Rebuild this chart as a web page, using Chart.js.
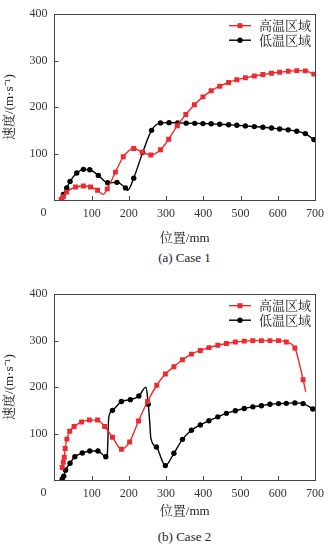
<!DOCTYPE html>
<html>
<head>
<meta charset="utf-8">
<script src="https://cdn.jsdelivr.net/npm/chart.js@4/dist/chart.umd.min.js"></script>
<style>
body { margin:0; background:#fff; width:332px; height:547px; position:relative; overflow:hidden; }
.box { position:absolute; left:0; width:332px; height:248px; }
.cap { position:absolute; left:54px; width:261px; text-align:center; font:13px "Liberation Serif", "Noto Serif CJK SC", "Noto Sans CJK SC", serif; color:#222; }
</style>
</head>
<body>
<script>
// axes
const xTicks = [0, 100, 200, 300, 400, 500, 600, 700]
const yTicks = [0, 100, 200, 300, 400]
const names = ['高温区域', '低温区域']

// Case 1, 1 = point drawn with a marker, 0 = only shapes the curve
const c1HotX = [19, 24, 33, 57, 78, 97, 116, 131, 142, 164, 185, 213, 236, 259, 285, 307, 330, 353, 376, 399, 421, 444, 468, 490, 513, 537, 560, 583, 605, 628, 651, 674, 697]
const c1HotY = [1, 7, 17, 28, 30, 28, 21, 12, 24, 60, 93, 111, 103, 97, 108, 131, 160, 184, 205, 222, 235, 245, 253, 259, 263, 267, 270, 273, 275, 277, 278.5, 278, 271]
const c1HotM = [1, 1, 1, 1, 1, 1, 1, 0, 1, 1, 1, 1, 1, 1, 1, 1, 1, 1, 1, 1, 1, 1, 1, 1, 1, 1, 1, 1, 1, 1, 1, 1, 1]
const c1ColdX = [19, 24, 33, 42, 60, 78, 95, 118, 143, 168, 191, 197, 213, 237, 261, 285, 308, 331, 354, 377, 399, 421, 444, 468, 490, 513, 537, 560, 583, 605, 628, 651, 674, 697]
const c1ColdY = [2, 12, 26, 40, 58, 66, 65, 53, 37, 38, 26, 21, 47, 102, 150, 166, 166.5, 166, 165.5, 165, 164.5, 164, 163, 162, 161, 159.5, 158, 156.5, 155, 153, 151, 148, 143, 130]
const c1ColdM = [1, 1, 1, 1, 1, 1, 1, 1, 1, 1, 1, 0, 1, 1, 1, 1, 1, 1, 1, 1, 1, 1, 1, 1, 1, 1, 1, 1, 1, 1, 1, 1, 1, 1]

// Case 2
const c2HotX = [21, 24, 26.5, 29, 33.5, 41, 53, 73, 94, 116, 135, 156, 180, 202, 226, 250, 275, 298, 321, 344, 368, 392, 415, 439, 462, 486, 510, 533, 556, 579, 602, 623, 646, 668, 675]
const c2HotY = [27, 38, 49, 68, 88, 105, 115, 125, 129, 129, 115, 92, 66, 82, 127, 169, 204, 228, 244, 259, 271, 279, 285, 290, 294, 297, 299, 300, 300, 300, 300, 297, 284, 216, 190]
const c2HotM = [1, 1, 1, 1, 1, 1, 1, 1, 1, 1, 1, 1, 1, 1, 1, 1, 1, 1, 1, 1, 1, 1, 1, 1, 1, 1, 1, 1, 1, 1, 1, 1, 1, 1, 0]
const c2ColdX = [21, 25, 30, 42, 55, 75, 95, 117, 138, 142, 146, 156, 180, 204, 227, 246, 252, 256, 259, 274, 298, 321, 344, 368, 392, 415, 439, 462, 486, 510, 533, 556, 579, 602, 623, 646, 668, 694]
const c2ColdY = [2, 8, 21, 36, 50, 58, 62.5, 62.5, 50, 55, 135, 150, 169, 173, 181, 200, 163, 125, 90, 71, 31, 57.5, 87.5, 107, 118.5, 127.5, 136, 143.5, 149, 154, 157.5, 160, 163, 164.5, 165, 166, 164.5, 153]
const c2ColdM = [1, 1, 1, 1, 1, 1, 1, 1, 1, 0, 0, 1, 1, 1, 1, 0, 1, 0, 0, 1, 1, 1, 1, 1, 1, 1, 1, 1, 1, 1, 1, 1, 1, 1, 1, 1, 1, 1]

const FONT = '"Liberation Serif", "Noto Serif CJK SC", "Noto Sans CJK SC", serif'
const RED = '#EE2A2E'

const el = o => {
	const a = document.createElement(o.a)
	if (o.d) for (const k in o.d) a.setAttribute(k, o.d[k])
	if (o.c) a.textContent = o.c
	;(o.b || document.body).appendChild(a)
	return a
}

const pts = (xs, ys) => xs.map((x, i) => ({ x, y: ys[i] }))

// box, inward ticks, corner "0" and the legend inside the plot
const deco = {
	id: 'deco',
	afterDraw(c) {
		const { ctx, chartArea: a, scales: { x, y } } = c
		ctx.save()
		ctx.strokeStyle = '#444'
		ctx.lineWidth = 1
		ctx.strokeRect(Math.round(a.left) + .5, Math.round(a.top) + .5, Math.round(a.right - a.left), Math.round(a.bottom - a.top))
		ctx.beginPath()
		x.ticks.forEach(t => {
			const p = Math.round(x.getPixelForValue(t.value)) + .5
			ctx.moveTo(p, a.bottom); ctx.lineTo(p, a.bottom - 4)
		})
		y.ticks.forEach(t => {
			const p = Math.round(y.getPixelForValue(t.value)) + .5
			ctx.moveTo(a.left, p); ctx.lineTo(a.left + 4, p)
		})
		ctx.stroke()

		ctx.fillStyle = '#333'
		ctx.font = '12px ' + FONT
		ctx.textAlign = 'center'
		ctx.textBaseline = 'middle'
		ctx.fillText('0', a.left - 11, a.bottom + 13)

		ctx.font = '13px ' + FONT
		ctx.textAlign = 'left'
		c.data.datasets.forEach((d, i) => {
			const ly = a.top + 11.5 + i * 14.5
			const lx = a.right - 86
			ctx.strokeStyle = d.borderColor
			ctx.lineWidth = 1.4
			ctx.beginPath(); ctx.moveTo(lx, ly); ctx.lineTo(lx + 22, ly); ctx.stroke()
			ctx.fillStyle = d.borderColor
			ctx.beginPath()
			if (d.pointStyle == 'rect') ctx.rect(lx + 11 - 2.5, ly - 2.5, 5, 5)
			else ctx.arc(lx + 11, ly, 2.7, 0, Math.PI * 2)
			ctx.fill()
			ctx.fillStyle = '#222'
			ctx.fillText(d.label, a.right - 56, ly + 1)
		})
		ctx.restore()
	}
}

const chart = (top, hot, cold, titlePad, caption, capTop) => {
	const b = el({ a: 'div', d: { class: 'box', style: 'top:' + top + 'px' } })
	const cv = el({ a: 'canvas', b })
	el({ a: 'div', c: caption, d: { class: 'cap', style: 'top:' + capTop + 'px' } })

	new Chart(cv, {
		type: 'line',
		data: {
			datasets: [{
				label: names[0],
				data: pts(hot[0], hot[1]),
				borderColor: RED,
				backgroundColor: RED,
				borderWidth: 1.4,
				pointStyle: 'rect',
				pointRadius: hot[2].map(m => m ? 3.5 : 0),
				pointBorderWidth: 0,
				cubicInterpolationMode: 'monotone',
			}, {
				label: names[1],
				data: pts(cold[0], cold[1]),
				borderColor: '#000',
				backgroundColor: '#000',
				borderWidth: 1.4,
				pointStyle: 'circle',
				pointRadius: cold[2].map(m => m ? 2.7 : 0),
				pointBorderWidth: 0,
				cubicInterpolationMode: 'monotone',
			}]
		},
		options: {
			responsive: true,
			maintainAspectRatio: false,
			animation: false,
			layout: { padding: { top: 8, right: 17, left: 0, bottom: 0 } },
			plugins: { legend: { display: false }, tooltip: { enabled: false } },
			scales: {
				x: {
					type: 'linear',
					min: xTicks[0], max: xTicks[xTicks.length - 1],
					afterBuildTicks: s => { s.ticks = xTicks.map(value => ({ value })) },
					afterFit: s => { s.height = 48 },
					grid: { display: false, drawTicks: false },
					border: { display: false },
					ticks: { color: '#333', font: { size: 12, family: FONT }, padding: 7, maxRotation: 0, callback: v => v === 0 ? '' : v },
					title: { display: true, text: '位置/mm', color: '#222', font: { size: 13, family: FONT }, padding: { top: 0, bottom: titlePad } },
				},
				y: {
					min: yTicks[0], max: yTicks[yTicks.length - 1],
					afterBuildTicks: s => { s.ticks = yTicks.map(value => ({ value })) },
					afterFit: s => { s.width = 54.4 },
					grid: { display: false, drawTicks: false },
					border: { display: false },
					ticks: { color: '#333', font: { size: 12, family: FONT }, padding: 7, callback: v => v === 0 ? '' : v },
					title: { display: true, text: '速度/(m·s⁻¹)', color: '#222', font: { size: 13, family: FONT }, padding: { top: 2, bottom: 0 } },
				}
			}
		},
		plugins: [deco]
	})
}

chart(0, [c1HotX, c1HotY, c1HotM], [c1ColdX, c1ColdY, c1ColdM], 2, '(a) Case 1', 250)
chart(280, [c2HotX, c2HotY, c2HotM], [c2ColdX, c2ColdY, c2ColdM], 9, '(b) Case 2', 529)
</script>
</body>
</html>
